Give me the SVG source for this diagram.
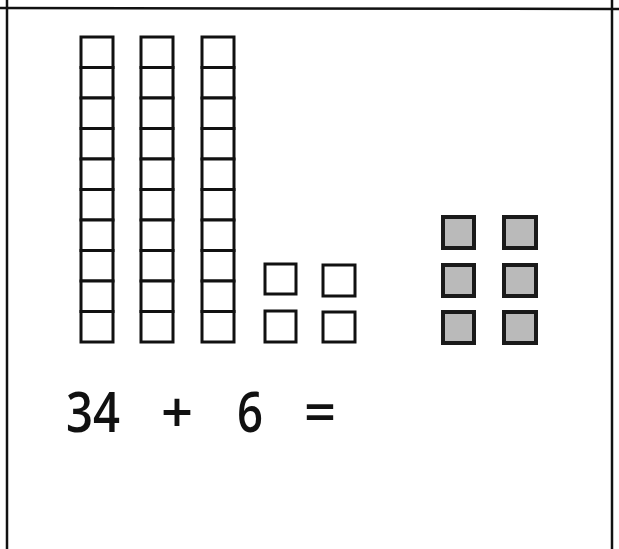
<svg xmlns="http://www.w3.org/2000/svg" width="619" height="549" viewBox="0 0 619 549">
<style>
.cell{fill:#fff;stroke:#111;stroke-width:3}
.gray{fill:#bababa;stroke:#1a1a1a;stroke-width:4}
.frame{stroke:#111;stroke-width:2.5;fill:none}
.eq{font-family:"Open Sans","Noto Sans",sans-serif;font-weight:600;font-size:56px;fill:#111;text-anchor:middle}
</style>
<defs>
<g id="rod">
<rect class="cell" x="0" y="0" width="32" height="30.5"/>
<rect class="cell" x="0" y="30.5" width="32" height="30.5"/>
<rect class="cell" x="0" y="61" width="32" height="30.5"/>
<rect class="cell" x="0" y="91.5" width="32" height="30.5"/>
<rect class="cell" x="0" y="122" width="32" height="30.5"/>
<rect class="cell" x="0" y="152.5" width="32" height="30.5"/>
<rect class="cell" x="0" y="183" width="32" height="30.5"/>
<rect class="cell" x="0" y="213.5" width="32" height="30.5"/>
<rect class="cell" x="0" y="244" width="32" height="30.5"/>
<rect class="cell" x="0" y="274.5" width="32" height="30.5"/>
</g>
</defs>
<rect width="619" height="549" fill="#fff"/>
<g id="frame">
<line class="frame" x1="0" y1="8" x2="619" y2="9"/>
<line class="frame" x1="7" y1="0" x2="7" y2="549"/>
<line class="frame" x1="612" y1="0" x2="612" y2="549"/>
</g>
<g id="tens">
<use href="#rod" x="81" y="37"/>
<use href="#rod" x="141" y="37"/>
<use href="#rod" x="202" y="37"/>
</g>
<g id="ones">
<rect class="cell" x="265" y="264" width="31" height="30"/>
<rect class="cell" x="323" y="265" width="32" height="31"/>
<rect class="cell" x="265" y="311" width="31" height="31"/>
<rect class="cell" x="323" y="312" width="32" height="30"/>
</g>
<g id="added">
<rect class="gray" x="443" y="217" width="31" height="31"/>
<rect class="gray" x="504" y="217" width="32" height="31"/>
<rect class="gray" x="443" y="265" width="31" height="31"/>
<rect class="gray" x="504" y="265" width="32" height="31"/>
<rect class="gray" x="443" y="312" width="31" height="31"/>
<rect class="gray" x="504" y="312" width="32" height="31"/>
</g>
<g id="equation">
<text class="eq" x="93" y="432" textLength="54" lengthAdjust="spacingAndGlyphs">34</text>
<text class="eq" x="177" y="432">+</text>
<text class="eq" x="250" y="432" textLength="26" lengthAdjust="spacingAndGlyphs">6</text>
<text class="eq" x="320" y="432">=</text>
</g>
</svg>
